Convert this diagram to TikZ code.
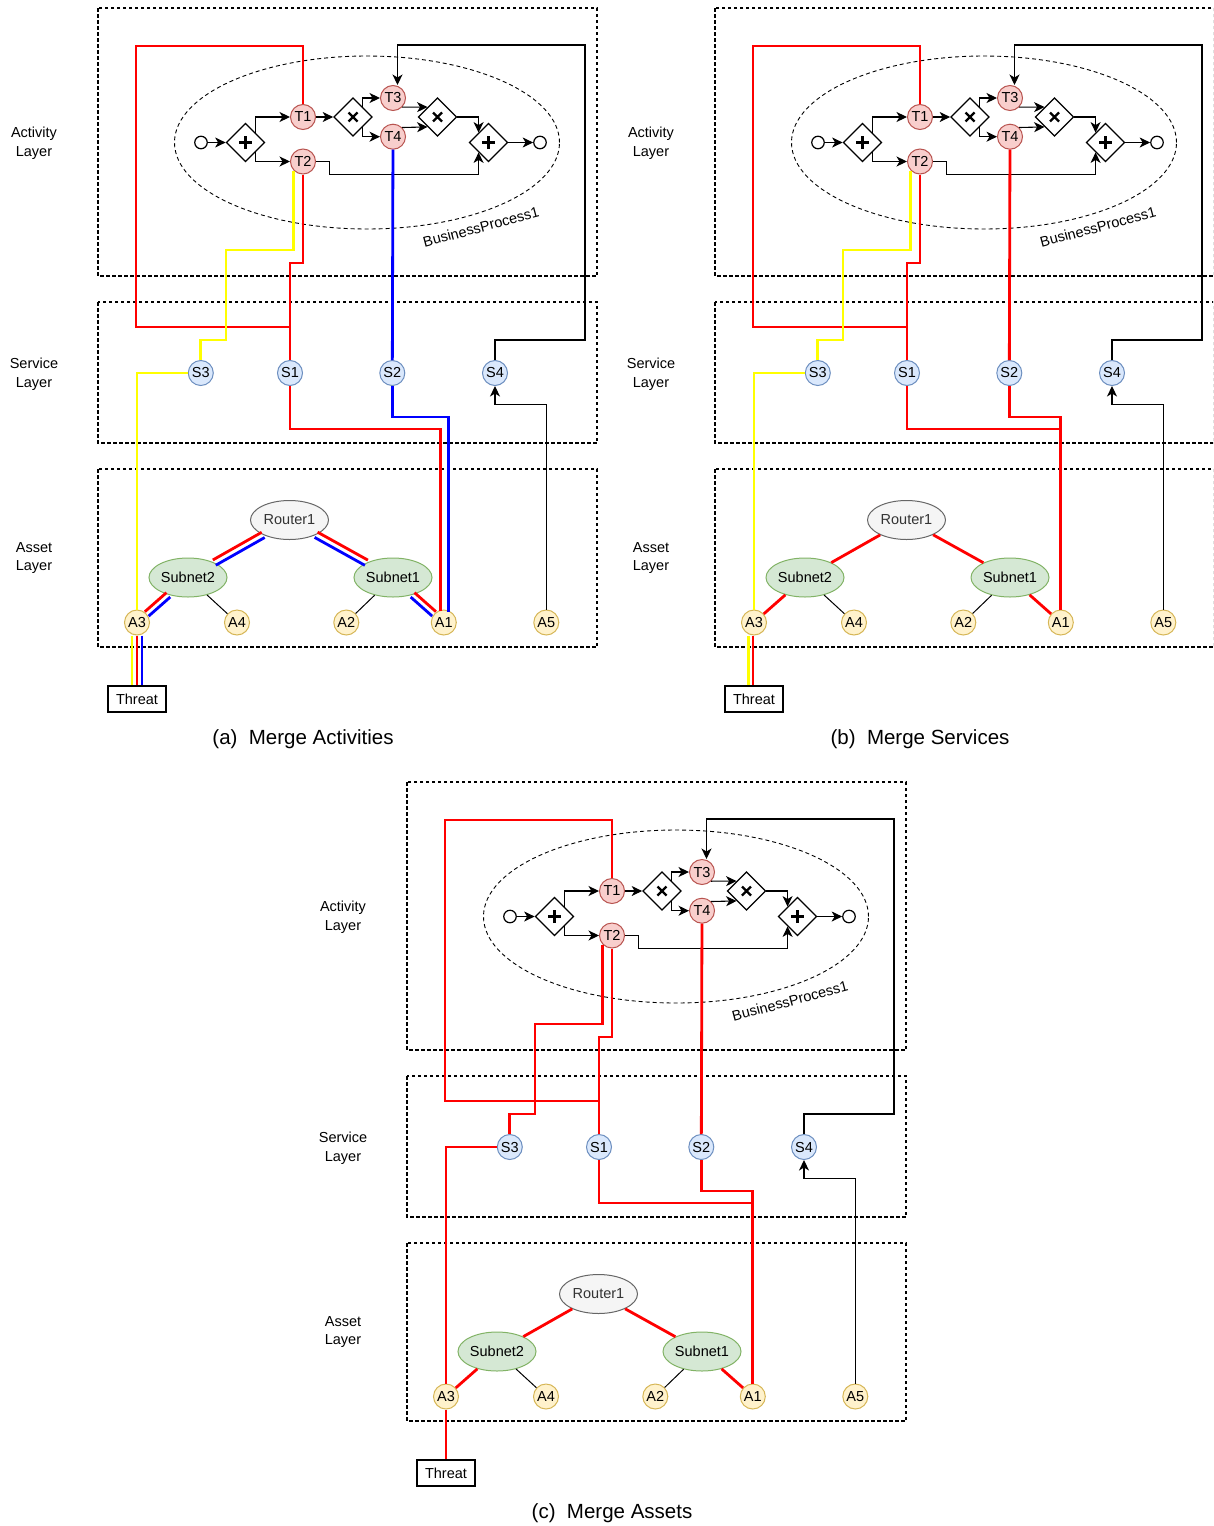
\documentclass[tikz,border=0pt]{standalone}
\usepackage{fontspec}
\setmainfont{Liberation Sans}
\usetikzlibrary{arrows.meta,shapes.geometric,calc}
\definecolor{clrTF}{HTML}{F8CECC}
\definecolor{clrTD}{HTML}{B85450}
\definecolor{clrSF}{HTML}{DAE8FC}
\definecolor{clrSD}{HTML}{6C8EBF}
\definecolor{clrAF}{HTML}{FFF2CC}
\definecolor{clrAD}{HTML}{D6B656}
\definecolor{clrNF}{HTML}{D5E8D4}
\definecolor{clrND}{HTML}{82B366}
\definecolor{clrRF}{HTML}{F5F5F5}
\definecolor{clrRD}{HTML}{666666}
\definecolor{clrRT}{HTML}{333333}
\definecolor{clrY}{HTML}{FFFF00}

% one panel without the attack paths
\newcommand{\layerpanel}[1]{%
  % --- layers ---
  \draw[layerbox] (98,8) rectangle (597,276);
  \draw[layerbox] (98,302) rectangle (597,443);
  \draw[layerbox] (98,469) rectangle (597,647);
  \node[layerlbl] (lact) at (34,143) {Activity\\Layer};
  \node[layerlbl] (lsrv) at (34,374) {Service\\Layer};
  \node[layerlbl] (last) at (34,558) {Asset\\Layer};
  % --- process ---
  \node[procarea] (bp) at (367,142.5) {};
  \node[rotate=15] (bpl) at (481,227) {BusinessProcess1};
  \node[bpevent] (ev0) at (201,142.5) {};
  \node[gwand] (g1) at (245.5,142.5) {};
  \node[taskn] (t1) at (303,117) {T1};
  \node[taskn] (t2) at (303,161.5) {T2};
  \node[gwxor] (x1) at (353,117) {};
  \node[taskn] (t3) at (393,98) {T3};
  \node[taskn] (t4) at (393,136.7) {T4};
  \node[gwxor] (x2) at (437.5,117) {};
  \node[gwand] (g2) at (488.5,142.5) {};
  \node[bpevent] (ev1) at (540,142.5) {};
  \draw[flow] (ev0) -- (g1);
  \draw[flow] (g1.north east) |- (t1);
  \draw[flow] (g1.south east) |- (t2);
  \draw[flow] (t1) -- (x1);
  \draw[flow] (x1.north east) |- (t3);
  \draw[flow] (x1.south east) |- (t4);
  \draw[flow] (t3.south east) -- (x2.north west);
  \draw[flow] (t4.north east) -- (x2.south west);
  \draw[flow] (x2) -| (g2.north west);
  \draw[flow] (t2.east) -- ++(13.5,0) |- ($(g2.south west)+(0,22)$) -- (g2.south west);
  \draw[flow] (g2) -- (ev1);
  % --- services ---
  \node[srvn] (s3) at (200.8,373) {S3};
  \node[srvn] (s1) at (290,373) {S1};
  \node[srvn] (s2) at (392.3,373) {S2};
  \node[srvn] (s4) at (495,373) {S4};
  % --- assets ---
  \node[routern] (r1) at (289.5,520) {Router1};
  \node[subnetn] (n2) at (188,577.5) {Subnet2};
  \node[subnetn] (n1) at (393,577.5) {Subnet1};
  \node[astn] (a3) at (137,622.5) {A3};
  \node[astn] (a4) at (237,622.5) {A4};
  \node[astn] (a2) at (346.3,622.5) {A2};
  \node[astn] (a1) at (443.8,622.5) {A1};
  \node[astn] (a5) at (546.3,622.5) {A5};
  \draw[thinlink] (n2) -- (a4);
  \draw[thinlink] (n1) -- (a2);
  \draw[flow] (a5.north) -- ++(0,-205) -| (s4.south);
  \draw[flow] (s4.north) -- ++(0,-20) -| ++(90,-295) -| ([xshift=4.5pt]t3.north);
  \node[threatbox] (thr) at (137,699) {Threat};
  \node[panelcap] (cap) at (303,739) {#1};
}

\begin{document}
\begin{tikzpicture}[x=1pt,y=-1pt,font=\fontsize{14.5}{17.5}\selectfont,
  layerbox/.style={draw=black,line width=1.1pt,dash pattern=on 3.5pt off 2.5pt},
  layerlbl/.style={align=center,font=\fontsize{14.5}{18.5}\selectfont},
  procarea/.style={ellipse,draw=black,line width=0.9pt,dash pattern=on 4pt off 3pt,
    minimum width=385,minimum height=173,inner sep=0},
  bpevent/.style={circle,draw=black,line width=1.2pt,fill=white,minimum size=12.5,inner sep=0},
  gate/.style={diamond,draw=black,line width=1.2pt,fill=white,minimum size=38.5,inner sep=0},
  gwand/.style={gate,path picture={\draw[line width=2.3pt] (path picture bounding box.center)
    +(-6.5pt,0) -- +(6.5pt,0) +(0,-6.5pt) -- +(0,6.5pt);}},
  gwxor/.style={gate,path picture={\draw[line width=2.3pt] (path picture bounding box.center)
    +(-4.5pt,-4.5pt) -- +(4.5pt,4.5pt) +(-4.5pt,4.5pt) -- +(4.5pt,-4.5pt);}},
  taskn/.style={circle,draw=clrTD,fill=clrTF,line width=1pt,minimum size=25,inner sep=0},
  srvn/.style={circle,draw=clrSD,fill=clrSF,line width=1pt,minimum size=25,inner sep=0},
  astn/.style={circle,draw=clrAD,fill=clrAF,line width=1pt,minimum size=25,inner sep=0},
  routern/.style={ellipse,draw=clrRD,fill=clrRF,text=clrRT,line width=1pt,
    minimum width=78,minimum height=39,inner sep=0},
  subnetn/.style={ellipse,draw=clrND,fill=clrNF,line width=1pt,
    minimum width=78,minimum height=39,inner sep=0},
  threatbox/.style={draw=black,fill=white,line width=1.2pt,minimum width=58,minimum height=26,inner sep=0},
  panelcap/.style={font=\fontsize{20.5}{24}\selectfont},
  flow/.style={draw=black,line width=1.1pt,-{Stealth[length=10.5pt,width=10pt,inset=3pt]}},
  thinlink/.style={draw=black,line width=1pt},
  redp/.style={draw=red,line width=2.8pt},
  bluep/.style={draw=blue,line width=2.8pt},
  yelp/.style={draw=clrY,line width=2.8pt},
  track/.style={transform canvas={shift={#1}}}]
  \useasboundingbox (0,0) rectangle (1213,1526);
  \clip (0,0) rectangle (1213,1526);

  % --- (a) ---
  \begin{scope}[name prefix=a-]
    \layerpanel{(a)~~Merge Activities}
    \draw[redp] (t1.north) |- (136,46) -- (136,327) -| (s1.north);
    \draw[redp] (t2.south) |- (290,263) -- (s1.north);
    \draw[redp] (s1.south) |- (440.5,429) -- (440.5,611);
    \draw[redp,track={(-1.5pt,2.6pt)}] (r1) -- (n2);
    \draw[redp,track={(1.5pt,2.6pt)}] (r1) -- (n1);
    \draw[redp,track={(-1.9pt,2.2pt)}] (n2) -- (a3);
    \draw[redp,track={(1.9pt,2.2pt)}] (n1) -- (a1);
    \draw[redp] (a3) -- (thr);
    \draw[bluep] (t4) -- (s2);
    \draw[bluep] (s2.south) |- (448.5,417) -- (448.5,611.5);
    \draw[bluep,track={(1.5pt,-2.6pt)}] (r1) -- (n2);
    \draw[bluep,track={(-1.5pt,-2.6pt)}] (r1) -- (n1);
    \draw[bluep,track={(1.9pt,-2.2pt)}] (n2) -- (a3);
    \draw[bluep,track={(-1.9pt,-2.2pt)}] (n1) -- (a1);
    \draw[bluep,track={(5pt,0pt)}] (a3) -- (thr);
    \draw[yelp] (t2.south west) |- (226,250) |- (200.8,340) -- (s3.north);
    \draw[yelp] (s3.west) -| (a3.north);
    \draw[yelp,track={(-5pt,0pt)}] (a3) -- (thr);
  \end{scope}

  % --- (b) ---
  \begin{scope}[shift={(617,0)},name prefix=b-]
    \layerpanel{(b)~~Merge Services}
    \draw[redp] (t1.north) |- (136,46) -- (136,327) -| (s1.north);
    \draw[redp] (t2.south) |- (290,263) -- (s1.north);
    \draw[redp] (t4) -- (s2);
    \draw[redp] (s2.south) |- (443.8,417) -- (443.8,429);
    \draw[redp] (s1.south) |- (443.8,429) -- (a1.north);
    \draw[redp] (r1) -- (n2);
    \draw[redp] (r1) -- (n1);
    \draw[redp] (n2) -- (a3);
    \draw[redp] (n1) -- (a1);
    \draw[redp,track={(-1pt,0pt)}] (a3) -- (thr);
    \draw[yelp] (t2.south west) |- (226,250) |- (200.8,340) -- (s3.north);
    \draw[yelp] (s3.west) -| (a3.north);
    \draw[yelp,track={(-5.5pt,0pt)}] (a3) -- (thr);
  \end{scope}

  % --- (c) ---
  \begin{scope}[shift={(309,774)},name prefix=c-]
    \layerpanel{(c)~~Merge Assets}
    \draw[redp] (t1.north) |- (136,46) -- (136,327) -| (s1.north);
    \draw[redp] (t2.south) |- (290,263) -- (s1.north);
    \draw[redp] (t2.south west) |- (226,250) |- (200.8,340) -- (s3.north);
    \draw[redp] (s3.west) -| (a3.north);
    \draw[redp] (t4) -- (s2);
    \draw[redp] (s2.south) |- (443.8,417) -- (443.8,429);
    \draw[redp] (s1.south) |- (443.8,429) -- (a1.north);
    \draw[redp] (r1) -- (n2);
    \draw[redp] (r1) -- (n1);
    \draw[redp] (n2) -- (a3);
    \draw[redp] (n1) -- (a1);
    \draw[redp] (a3) -- (thr);
  \end{scope}
\end{tikzpicture}
\end{document}
